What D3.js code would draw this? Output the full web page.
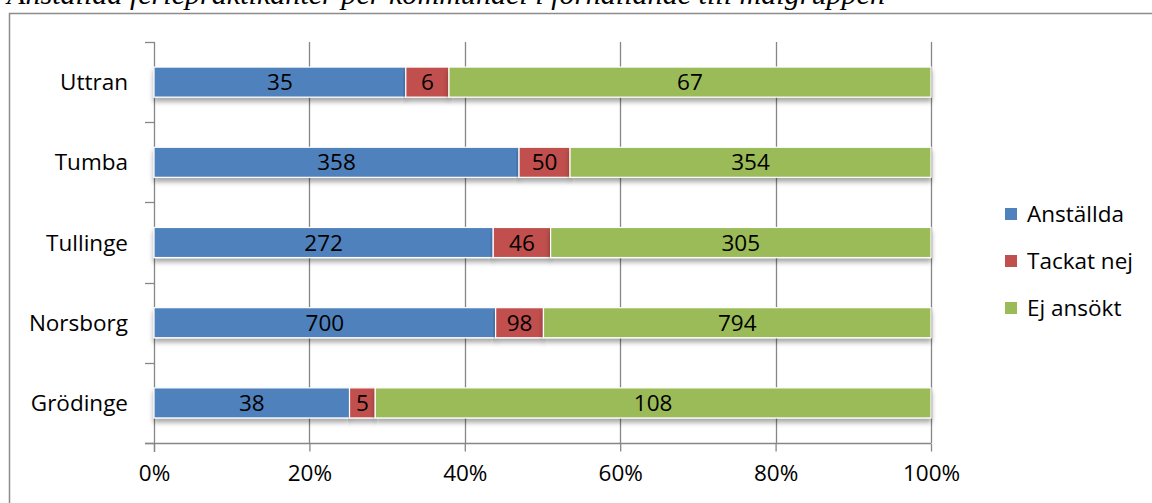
<!DOCTYPE html>
<html>
<head>
<meta charset="utf-8">
<script src="https://cdn.jsdelivr.net/npm/d3@7"></script>
<style>
  body { margin: 0; background: #fff; }
  svg { display: block; }
  text { font-family: "Open Sans", "Liberation Sans", sans-serif; fill: #000; }
</style>
</head>
<body>
<script>
var width = 1152;
var height = 503;

// data
var categories = ["Uttran", "Tumba", "Tullinge", "Norsborg", "Grödinge"];
var series = ["Anställda", "Tackat nej", "Ej ansökt"];
var anstallda = [35, 358, 272, 700, 38];
var tackatNej = [6, 50, 46, 98, 5];
var ejAnsokt = [67, 354, 305, 794, 108];
var xTicks = [0, 0.2, 0.4, 0.6, 0.8, 1];
var colors = ["#4f81bd", "#c0504d", "#9bbb59"];

var fontSize = "22.5px";

var rows = categories.map(function (c, i) {
  return { name: c, "Anställda": anstallda[i], "Tackat nej": tackatNej[i], "Ej ansökt": ejAnsokt[i] };
});

var svg = d3.select("body").append("svg")
  .attr("width", width)
  .attr("height", height);

var defs = svg.append("defs");
var f = defs.append("filter").attr("id", "shadow")
  .attr("x", "-5%").attr("y", "-20%").attr("width", "110%").attr("height", "160%");
f.append("feDropShadow")
  .attr("dx", 0).attr("dy", 4).attr("stdDeviation", 2.5)
  .attr("flood-color", "#000").attr("flood-opacity", 0.35);

// title (cut off at top of image, as in the original)
svg.append("text")
  .attr("x", 7)
  .attr("y", 4)
  .attr("textLength", 878)
  .attr("lengthAdjust", "spacingAndGlyphs")
  .style("font-family", "'Liberation Serif', 'DejaVu Serif', serif")
  .style("font-style", "italic")
  .style("font-size", "30px")
  .text("Anställda feriepraktikanter per kommundel i förhållande till målgruppen");

// outer frame
svg.append("rect")
  .attr("x", 9.5).attr("y", 13.5)
  .attr("width", 1200).attr("height", 600)
  .attr("fill", "none")
  .attr("stroke", "#8c8c8c")
  .attr("stroke-width", 1.5);

var x = d3.scaleLinear().domain([0, 1]).range([154, 931]);
var y = d3.scaleBand().domain(categories).range([42, 443])
  .paddingInner(0.625).paddingOuter(0.3125);

var axisColor = "#868686";

// vertical gridlines
svg.append("g")
  .selectAll("line")
  .data(xTicks.slice(1))
  .enter().append("line")
  .attr("x1", function (d) { return Math.round(x(d)) + 0.5; })
  .attr("x2", function (d) { return Math.round(x(d)) + 0.5; })
  .attr("y1", 42)
  .attr("y2", 443)
  .attr("stroke", axisColor)
  .attr("stroke-width", 1.3);

// x axis
var xAxis = svg.append("g")
  .attr("transform", "translate(0,443.5)")
  .call(d3.axisBottom(x).tickValues(xTicks).tickFormat(d3.format(".0%")).tickSize(8).tickSizeOuter(0).tickPadding(14));
xAxis.select(".domain").attr("stroke", axisColor).attr("stroke-width", 1.3)
  .attr("d", "M145,0H931");
xAxis.selectAll(".tick line").attr("stroke", axisColor).attr("stroke-width", 1.3);
xAxis.selectAll(".tick text")
  .style("font-family", "'Open Sans', sans-serif")
  .style("font-size", fontSize)
  .attr("fill", "#000");

// y axis (ticks at band boundaries)
var step = y.step();
var bounds = d3.range(categories.length + 1).map(function (i) { return 42 + i * step; });
var yAxis = svg.append("g");
yAxis.append("line")
  .attr("x1", 154.5).attr("x2", 154.5)
  .attr("y1", 42).attr("y2", 452)
  .attr("stroke", axisColor).attr("stroke-width", 1.3);
yAxis.selectAll(".yt")
  .data(bounds)
  .enter().append("line")
  .attr("class", "yt")
  .attr("x1", 145).attr("x2", 155)
  .attr("y1", function (d) { return Math.round(d) + 0.5; })
  .attr("y2", function (d) { return Math.round(d) + 0.5; })
  .attr("stroke", axisColor).attr("stroke-width", 1.3);
yAxis.selectAll(".yl")
  .data(categories)
  .enter().append("text")
  .attr("class", "yl")
  .attr("x", 128)
  .attr("y", function (d) { return y(d) + y.bandwidth() / 2; })
  .attr("dy", "0.36em")
  .attr("text-anchor", "end")
  .style("font-size", fontSize)
  .text(function (d) { return d; });

// stacked, normalised bars
var stack = d3.stack().keys(series).offset(d3.stackOffsetExpand);
var layers = stack(rows);

var layer = svg.append("g").selectAll("g")
  .data(layers)
  .enter().append("g")
  .attr("fill", function (d, i) { return colors[i]; });

layer.selectAll("rect")
  .data(function (d) { return d; })
  .enter().append("rect")
  .attr("x", function (d) { return x(d[0]); })
  .attr("y", function (d) { return y(d.data.name); })
  .attr("width", function (d) { return x(d[1]) - x(d[0]); })
  .attr("height", y.bandwidth())
  .attr("stroke", "#fff")
  .attr("stroke-width", 1.2)
  .attr("filter", "url(#shadow)");

layers.forEach(function (l) {
  svg.append("g").selectAll("text")
    .data(l)
    .enter().append("text")
    .attr("x", function (d) { return (x(d[0]) + x(d[1])) / 2; })
    .attr("y", function (d) { return y(d.data.name) + y.bandwidth() / 2; })
    .attr("dy", "0.36em")
    .attr("text-anchor", "middle")
    .style("font-size", fontSize)
    .text(function (d) { return d.data[l.key]; });
});

// legend
var legend = svg.append("g").selectAll("g")
  .data(series)
  .enter().append("g")
  .attr("transform", function (d, i) { return "translate(1005," + (214 + i * 47) + ")"; });
legend.append("rect")
  .attr("x", 0).attr("y", -6)
  .attr("width", 12).attr("height", 12)
  .attr("fill", function (d, i) { return colors[i]; });
legend.append("text")
  .attr("x", 22)
  .attr("y", 0)
  .attr("dy", "0.36em")
  .style("font-size", fontSize)
  .text(function (d) { return d; });
</script>
</body>
</html>
